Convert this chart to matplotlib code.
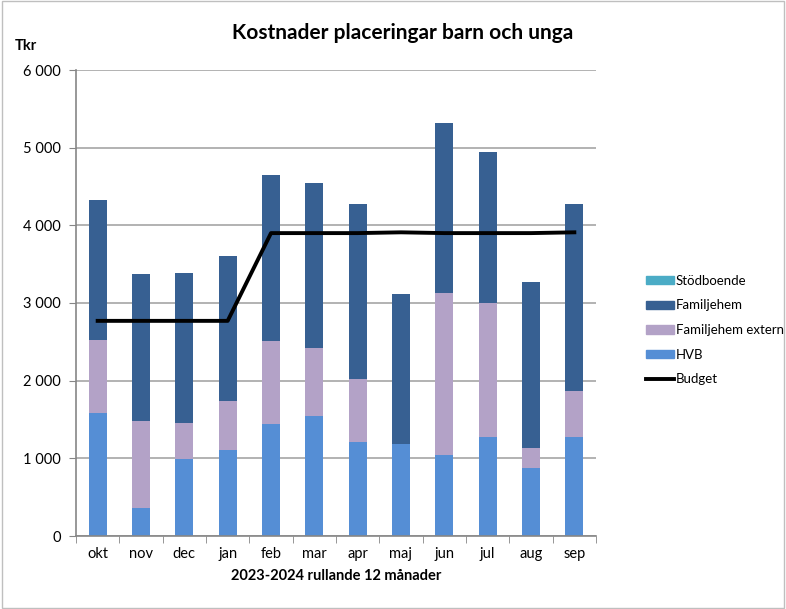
import matplotlib.pyplot as plt
import numpy as np
from matplotlib.lines import Line2D
from matplotlib.patches import Patch

plt.rcParams['font.family'] = ['Lato', 'DejaVu Sans']

manader = ['okt', 'nov', 'dec', 'jan', 'feb', 'mar', 'apr', 'maj', 'jun', 'jul', 'aug', 'sep']
hvb = [1590, 365, 990, 1110, 1440, 1545, 1215, 1180, 1043, 1280, 870, 1280]
fam_extern = [930, 1115, 470, 630, 1070, 875, 805, 0, 2082, 1715, 260, 585]
familjehem = [1800, 1890, 1920, 1860, 2140, 2130, 2250, 1930, 2195, 1955, 2145, 2415]
stodboende = [0] * 12
budget = [2770, 2770, 2770, 2770, 3900, 3900, 3900, 3910, 3900, 3900, 3900, 3910]

c_hvb = '#558ED5'
c_ext = '#B3A2C7'
c_fam = '#376092'
c_stod = '#4BACC6'

fig = plt.figure(figsize=(7.86, 6.09), dpi=100)
ax = fig.add_axes([76/786, 73/609, 520/786, 466/609])

x = np.arange(len(manader))
b = 0.42
ax.bar(x, hvb, b, color=c_hvb, zorder=2)
ax.bar(x, fam_extern, b, bottom=hvb, color=c_ext, zorder=2)
bot2 = np.array(hvb) + np.array(fam_extern)
ax.bar(x, familjehem, b, bottom=bot2, color=c_fam, zorder=2)
ax.bar(x, stodboende, b, bottom=bot2 + np.array(familjehem), color=c_stod, zorder=2)
ax.plot(x, budget, color='black', lw=2.8, zorder=3)

ax.set_xlim(-0.5, 11.5)
ax.set_ylim(0, 6000)
ax.set_yticks(range(0, 6001, 1000))
ax.set_yticklabels(['0', '1 000', '2 000', '3 000', '4 000', '5 000', '6 000'], fontsize=10.5)
ax.yaxis.grid(True, color='#A6A6A6', lw=1.2, zorder=0)
ax.set_axisbelow(True)

ax.set_xticks(x)
ax.set_xticklabels(manader, fontsize=10.5)
ax.tick_params(axis='x', length=0, pad=8)
ax.set_xticks(np.arange(-0.5, 12, 1), minor=True)
ax.tick_params(axis='x', which='minor', length=5, color='#868686', direction='out')
ax.tick_params(axis='y', length=5, color='#868686', pad=6)

for s in ['top', 'right']:
    ax.spines[s].set_visible(False)
for s in ['left', 'bottom']:
    ax.spines[s].set_color('#868686')
    ax.spines[s].set_linewidth(1.2)

ax.set_xlabel('2023-2024 rullande 12 månader', fontsize=10.5, fontweight='bold', labelpad=6)
fig.text(403/786, 1 - 33/609, 'Kostnader placeringar barn och unga', ha='center', va='center',
         fontsize=15, fontweight='bold')
fig.text(15/786, 1 - 46/609, 'Tkr', ha='left', va='center', fontsize=10.5, fontweight='bold')

handles = [Patch(color=c_stod), Patch(color=c_fam), Patch(color=c_ext), Patch(color=c_hvb),
           Line2D([], [], color='black', lw=2.8)]
labels = ['Stödboende', 'Familjehem', 'Familjehem extern', 'HVB', 'Budget']
fig.legend(handles, labels, loc='center left', bbox_to_anchor=(646/786, 1 - 330/609),
           frameon=False, fontsize=9.5, handlelength=2.1, handleheight=0.6,
           handletextpad=0.15, labelspacing=0.95, borderpad=0, borderaxespad=0)

fig.patches.append(plt.Rectangle((0.002, 0.002), 0.996, 0.996, transform=fig.transFigure,
                                 fill=False, edgecolor='#BFBFBF', lw=1))

fig.savefig('out.png', dpi=100)
